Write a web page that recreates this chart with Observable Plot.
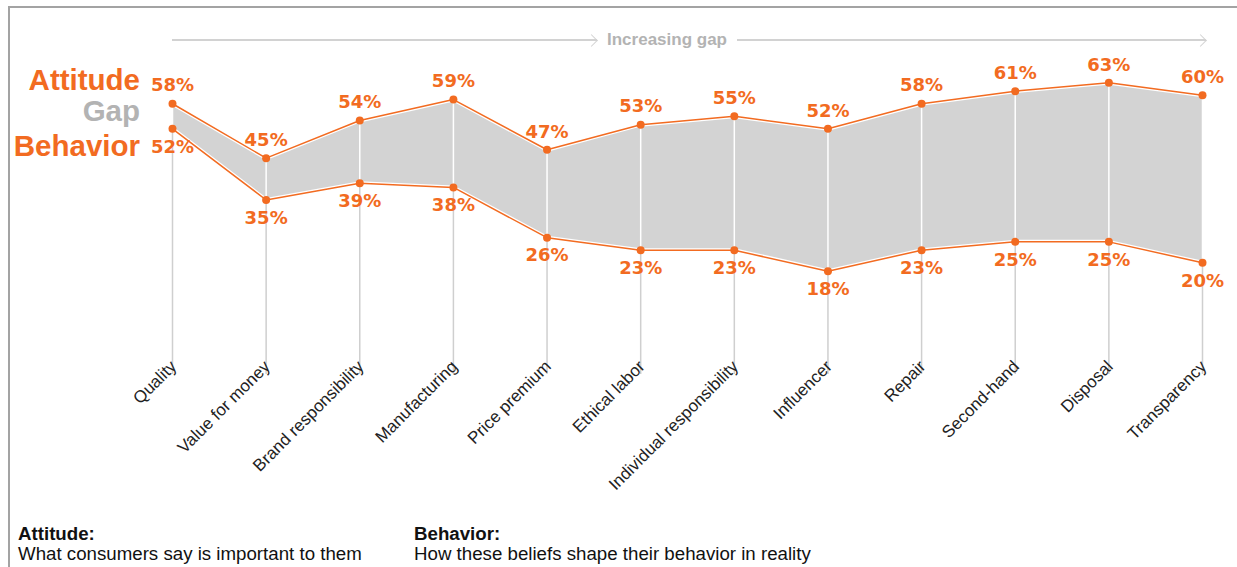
<!DOCTYPE html>
<html><head><meta charset="utf-8">
<script src="https://cdn.jsdelivr.net/npm/d3@7"></script>
<script src="https://cdn.jsdelivr.net/npm/@observablehq/plot@0.6"></script>
<style>
html,body{margin:0;padding:0;background:#fff;}
body{width:1237px;height:567px;position:relative;overflow:hidden;font-family:"Liberation Sans",Arial,sans-serif;}
#frame{position:absolute;left:8px;top:6px;right:0;bottom:-10px;border-left:2px solid #a3a3a3;border-top:2px solid #a3a3a3;}
#chart{position:absolute;left:0;top:0;}
#arrow{position:absolute;left:172px;width:1034px;top:31px;height:18px;display:flex;align-items:center;}
.seg{flex:1;height:1.5px;background:#d2d2d2;position:relative;}
.seg.first{flex:0 0 425px;}
.seg::after{content:"";position:absolute;right:1px;top:-3.75px;width:9px;height:9px;box-sizing:border-box;border-top:1.5px solid #d2d2d2;border-right:1.5px solid #d2d2d2;transform:rotate(45deg);}
#arrow span{margin:0 10px;color:#b3b3b3;font-weight:bold;font-size:17px;}
.leg{position:absolute;left:0;width:140px;text-align:right;font-weight:bold;font-size:29.5px;line-height:34px;}
.foot{position:absolute;font-size:18.7px;color:#111;line-height:20px;}
.foot b{display:block;}
</style>
</head><body>
<div id="frame"></div>
<div id="arrow"><div class="seg first"></div><span>Increasing gap</span><div class="seg"></div></div>
<div id="chart"></div>
<div class="leg" style="top:63px;color:#f26b21">Attitude</div>
<div class="leg" style="top:94px;color:#b3b3b3">Gap</div>
<div class="leg" style="top:129px;color:#f26b21">Behavior</div>
<div class="foot" style="left:18px;top:524px;"><b>Attitude:</b>What consumers say is important to them</div>
<div class="foot" style="left:414px;top:524px;"><b>Behavior:</b>How these beliefs shape their behavior in reality</div>
<script>
const categories = ["Quality","Value for money","Brand responsibility","Manufacturing","Price premium","Ethical labor","Individual responsibility","Influencer","Repair","Second-hand","Disposal","Transparency"];
const attitude = [58,45,54,59,47,53,55,52,58,61,63,60];
const behavior = [52,35,39,38,26,23,23,18,23,25,25,20];
const data = categories.map((c,i)=>({category:c, attitude:attitude[i], behavior:behavior[i]}));
const orange = "#f26b21";
const valueFont = {fill:orange, fontSize:18, fontWeight:"bold", fontFamily:"DejaVu Sans"};
const chart = Plot.plot({
  width:1237, height:500, marginLeft:172, marginRight:35, marginTop:53, marginBottom:154,
  x:{type:"point", domain:categories, padding:0, round:false, axis:null},
  y:{domain:[0,70], axis:null},
  style:{background:"transparent", overflow:"visible", fontFamily:"Liberation Sans"},
  marks:[
    Plot.ruleX(data,{x:"category", y1:0, y2:"behavior", stroke:"#cfcfcf", strokeWidth:1.5, insetTop:28}),
    Plot.areaY(data,{x:"category", y1:"behavior", y2:"attitude", fill:"#d3d3d3"}),
    Plot.ruleX(data,{x:"category", y1:"behavior", y2:"attitude", stroke:"#fff", strokeWidth:1.5}),
    Plot.lineY(data,{x:"category", y:"attitude", stroke:"#fff", strokeWidth:4}),
    Plot.lineY(data,{x:"category", y:"behavior", stroke:"#fff", strokeWidth:4}),
    Plot.lineY(data,{x:"category", y:"attitude", stroke:orange, strokeWidth:1.5}),
    Plot.lineY(data,{x:"category", y:"behavior", stroke:orange, strokeWidth:1.5}),
    Plot.dot(data,{x:"category", y:"attitude", r:4, fill:orange}),
    Plot.dot(data,{x:"category", y:"behavior", r:4, fill:orange}),
    Plot.text(data,{x:"category", y:"attitude", text:d=>d.attitude+"%", dy:-18, ...valueFont}),
    Plot.text(data,{x:"category", y:"behavior", text:d=>d.behavior+"%", dy:18, ...valueFont}),
    Plot.text(categories,{x:d=>d, frameAnchor:"bottom", text:d=>d, rotate:-45, textAnchor:"end", dx:5, dy:21, fill:"#222", fontSize:17})
  ]
});
document.getElementById("chart").appendChild(chart);
</script>
</body></html>
